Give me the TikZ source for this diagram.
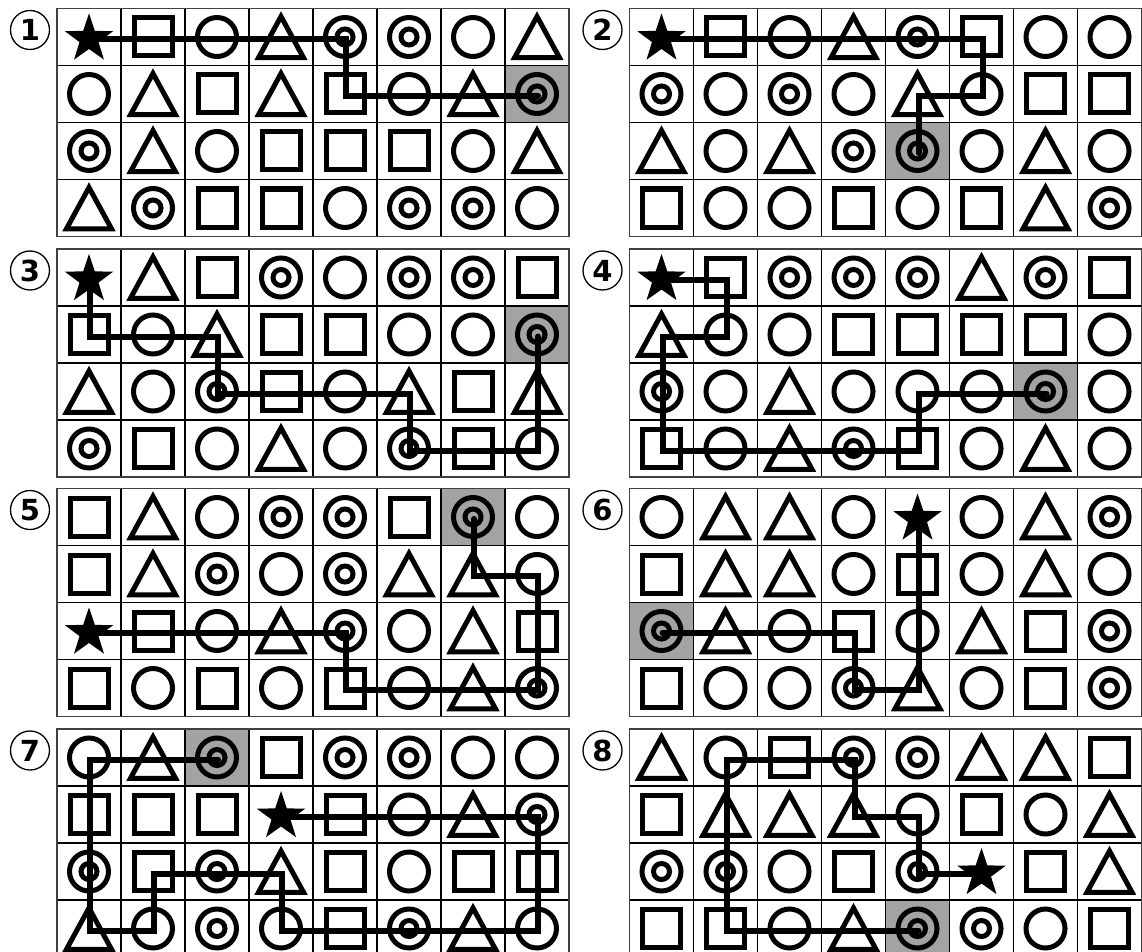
\documentclass[tikz,border=0pt]{standalone}
\usepackage{fontspec}
\newfontfamily\numfont{DejaVu Sans}
\definecolor{cellgray}{RGB}{163,163,163}
\tikzset{
  shapeline/.style={line width=5pt, draw=black, line join=miter},
  pathline/.style={line width=6pt, draw=black, line join=miter, line cap=round},
  gridline/.style={line width=1.5pt, draw=black},
  borderline/.style={line width=1.5pt, draw=black!75},
  numcircle/.style={circle, draw=black, line width=1.3pt, minimum size=39pt, inner sep=0pt,
    font=\numfont\bfseries\fontsize{29}{29}\selectfont},
  shC/.pic={\draw[shapeline] (0,0) circle[radius=19.5pt];},
  shD/.pic={\draw[shapeline] (0,0) circle[radius=19.5pt] (0,0) circle[radius=8pt];},
  shS/.pic={\draw[shapeline] (-19,-19) rectangle (19,19);},
  shT/.pic={\draw[shapeline] (0,-20.5) -- (22.5,20.75) -- (-22.5,20.75) -- cycle;},
  shX/.pic={\fill[black,shift={(0,2)}] (90:25.5pt) -- (126:10pt) -- (162:25.5pt) -- (198:10pt)
     -- (234:25.5pt) -- (270:10pt) -- (306:25.5pt) -- (342:10pt) -- (18:25.5pt) -- (54:10pt) -- cycle;},
}
% #1 prefix, #2 left, #3 top, #4 number, #5 rows
\newcommand\gridpanel[5]{%
  \begin{scope}[shift={(#2,#3)}]
    \foreach \row [count=\r] in {#5} {
      \foreach \s [count=\c] in \row {
        \if\s G \fill[cellgray] (\c*64-64,\r*57-57) rectangle ++(64,57);\fi
      }
    }
    \foreach \i in {1,...,7} \draw[gridline] (\i*64,0) -- (\i*64,228);
    \foreach \j in {1,2,3} \draw[gridline] (0,\j*57) -- (512,\j*57);
    \draw[borderline] (0,0) rectangle (512,228);
    \foreach \row [count=\r] in {#5} {
      \foreach \s [count=\c] in \row {
        \coordinate (#1-\r-\c) at (\c*64-31,\r*57-26.5);
        \begin{scope}[shift={(\c*64-32,\r*57-28.5)}]
          \if\s C \pic at (0,0) {shC};\fi
          \if\s D \pic at (0,0) {shD};\fi
          \if\s G \pic at (0,0) {shD};\fi
          \if\s S \pic at (0,0) {shS};\fi
          \if\s T \pic at (0,0) {shT};\fi
          \if\s X \pic at (0,0) {shX};\fi
        \end{scope}
      }
    }
    \node[numcircle] (#1-num) at (-27,21.5) {#4};
  \end{scope}}
\begin{document}
\begin{tikzpicture}[x=1pt,y=-1pt]
\useasboundingbox (0,0) rectangle (1142,952);
\fill[white] (0,0) rectangle (1142,952);
\clip (0,0) rectangle (1142,952);

\gridpanel{pa}{57}{8.5}{1}{{X,S,C,T,D,D,C,T},{C,T,S,T,S,C,T,G},{D,T,C,S,S,S,C,T},{T,D,S,S,C,D,D,C}}
\draw[pathline] (pa-1-1) -- (pa-1-5) -- (pa-2-5) -- (pa-2-8);

\gridpanel{pb}{629.5}{8.5}{2}{{X,S,C,T,D,S,C,C},{D,C,D,C,T,C,S,S},{T,C,T,D,G,C,T,C},{S,C,C,S,C,S,T,D}}
\draw[pathline] (pb-1-1) -- (pb-1-6) -- (pb-2-6) -- (pb-2-5) -- (pb-3-5);

\gridpanel{pc}{57}{249}{3}{{X,T,S,D,C,D,D,S},{S,C,T,S,S,C,C,G},{T,C,D,S,C,T,S,T},{D,S,C,T,C,D,S,C}}
\draw[pathline] (pc-1-1) -- (pc-2-1) -- (pc-2-3) -- (pc-3-3) -- (pc-3-6) -- (pc-4-6) -- (pc-4-8) -- (pc-2-8);

\gridpanel{pd}{629.5}{249}{4}{{X,S,D,D,D,T,D,S},{T,C,C,S,S,S,S,C},{D,C,T,C,C,C,G,C},{S,C,T,D,S,C,T,C}}
\draw[pathline] (pd-1-1) -- (pd-1-2) -- (pd-2-2) -- (pd-2-1) -- (pd-4-1) -- (pd-4-5) -- (pd-3-5) -- (pd-3-7);

\gridpanel{pe}{57}{488.5}{5}{{S,T,C,D,D,S,G,C},{S,T,D,C,D,T,T,C},{X,S,C,T,D,C,T,S},{S,C,S,C,S,C,T,D}}
\draw[pathline] (pe-3-1) -- (pe-3-5) -- (pe-4-5) -- (pe-4-8) -- (pe-2-8) -- (pe-2-7) -- (pe-1-7);

\gridpanel{pf}{629.5}{488.5}{6}{{C,T,T,C,X,C,T,D},{S,T,T,C,S,C,T,C},{G,T,C,S,C,T,S,D},{S,C,C,D,T,C,S,D}}
\draw[pathline] (pf-3-1) -- (pf-3-4) -- (pf-4-4) -- (pf-4-5) -- (pf-1-5);

\gridpanel{pg}{57}{729}{7}{{C,T,G,S,D,D,C,C},{S,S,S,X,S,C,T,D},{D,S,D,T,S,C,S,S},{T,C,D,C,S,D,T,C}}
\draw[pathline] (pg-1-3) -- (pg-1-1) -- (pg-4-1) -- (pg-4-2) -- (pg-3-2) -- (pg-3-4) -- (pg-4-4) -- (pg-4-8) -- (pg-2-8) -- (pg-2-4);

\gridpanel{ph}{629.5}{729}{8}{{T,C,S,D,D,T,T,S},{S,T,T,T,C,S,C,T},{D,D,C,S,D,X,S,T},{S,S,C,T,G,D,C,S}}
\draw[pathline] (ph-3-6) -- (ph-3-5) -- (ph-2-5) -- (ph-2-4) -- (ph-1-4) -- (ph-1-2) -- (ph-4-2) -- (ph-4-5);
\end{tikzpicture}
\end{document}
